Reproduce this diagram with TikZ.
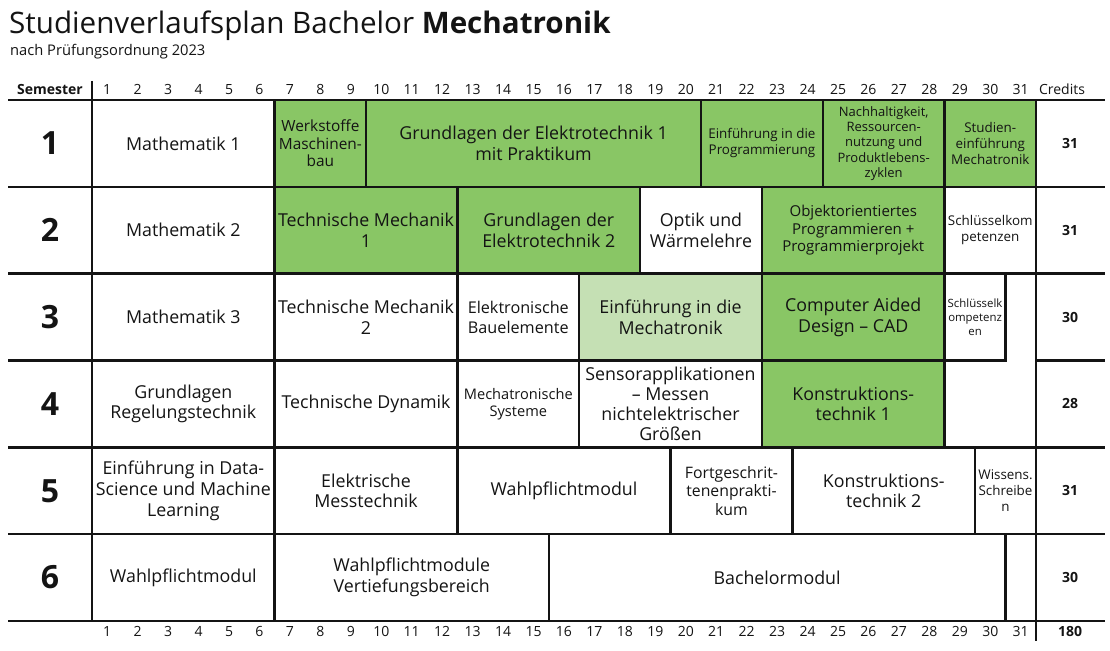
\documentclass[tikz,border=0pt]{standalone}
\usepackage{fontspec}
\setmainfont{Open Sans}
\definecolor{gr}{RGB}{137,198,101}
\definecolor{lg}{RGB}{197,224,180}
\definecolor{ln}{RGB}{20,20,20}
\definecolor{tx}{RGB}{20,20,20}
\newcommand{\fs}[2]{\fontsize{#1}{#2}\selectfont}
\newcommand{\modcell}[6]{%
  \node[modbox,#5,minimum width={(#3-#2+1)*30.45},minimum height=86.83]
    (#1) at ({92+(#2-1+#3)*30.45/2},{100+(#4-0.5)*86.83}) {#6};}
\begin{document}
\begin{tikzpicture}[x=1pt,y=-1pt,
  modbox/.style={draw=ln,line width=2.5pt,inner sep=0pt,outer sep=0pt,align=center,
    text=tx,font=\fs{17.8}{20.8},fill=white},
  green/.style={fill=gr},
  lgreen/.style={fill=lg},
  hdr/.style={text=tx,font=\fs{14}{16},inner sep=0pt,anchor=base},
  semnum/.style={text=tx,font=\fs{32}{36}\bfseries,inner sep=0pt},
  cred/.style={text=tx,font=\fs{14}{16}\bfseries,inner sep=0pt},
  grid/.style={draw=ln,line width=2.5pt}]
\useasboundingbox (0,0) rectangle (1110,650);
\fill[white] (0,0) rectangle (1110,650);
% title
\node[anchor=base west,inner sep=0pt,text=tx,font=\fs{29.6}{34}] (title) at (9,34)
  {Studienverlaufsplan Bachelor \textbf{Mechatronik}};
\node[anchor=base west,inner sep=0pt,text=tx,font=\fs{14.7}{16}] (subtitle) at (10,56)
  {nach Prüfungsordnung 2023};
% header / footer
\node[hdr,font=\fs{14}{16}\bfseries] (hsem) at (50,95) {Semester};
\node[hdr] (hcred) at (1062,95) {Credits};
\foreach \i in {1,...,31}{
  \node[hdr] (h\i) at ({92+(\i-0.5)*30.45},95) {\i};
  \node[hdr] (f\i) at ({92+(\i-0.5)*30.45},636) {\i};
}
\node[hdr,font=\fs{14}{16}\bfseries] (ftot) at (1070,636) {180};
% row 1
\modcell{m11}{1}{6}{1}{}{Mathematik 1}
\modcell{m12}{7}{9}{1}{green,font=\fs{15.4}{17.5}}{Werkstoffe\\Maschinen-\\bau}
\modcell{m13}{10}{20}{1}{green}{Grundlagen der Elektrotechnik 1\\mit Praktikum}
\modcell{m14}{21}{24}{1}{green,font=\fs{13.4}{16}}{Einführung in die\\Programmierung}
\modcell{m15}{25}{28}{1}{green,font=\fs{13}{15.3}}{Nachhaltigkeit,\\Ressourcen-\\nutzung und\\Produktlebens-\\zyklen}
\modcell{m16}{29}{31}{1}{green,font=\fs{13.4}{16}}{Studien-\\einführung\\Mechatronik}
% row 2
\modcell{m21}{1}{6}{2}{}{Mathematik 2}
\modcell{m22}{7}{12}{2}{green}{Technische Mechanik\\1}
\modcell{m23}{13}{18}{2}{green}{Grundlagen der\\Elektrotechnik 2}
\modcell{m24}{19}{22}{2}{}{Optik und\\Wärmelehre}
\modcell{m25}{23}{28}{2}{green,font=\fs{15}{17.5}}{Objektorientiertes\\Programmieren +\\Programmierprojekt}
\modcell{m26}{29}{31}{2}{font=\fs{13.4}{16}}{Schlüsselkom\\petenzen}
% row 3
\modcell{m31}{1}{6}{3}{}{Mathematik 3}
\modcell{m32}{7}{12}{3}{}{Technische Mechanik\\2}
\modcell{m33}{13}{16}{3}{font=\fs{16.2}{20}}{Elektronische\\Bauelemente}
\modcell{m34}{17}{22}{3}{lgreen}{Einführung in die\\Mechatronik}
\modcell{m35}{23}{28}{3}{green}{Computer Aided\\Design -- CAD}
\modcell{m36}{29}{30}{3}{font=\fs{11.4}{14}}{Schlüsselk\\ompetenz\\en}
% row 4
\modcell{m41}{1}{6}{4}{}{Grundlagen\\Regelungstechnik}
\modcell{m42}{7}{12}{4}{}{Technische Dynamik}
\modcell{m43}{13}{16}{4}{font=\fs{14.6}{17}}{Mechatronische\\Systeme}
\modcell{m44}{17}{22}{4}{font=\fs{17.8}{20}}{Sensorapplikationen\\-- Messen\\nichtelektrischer\\Größen}
\modcell{m45}{23}{28}{4}{green}{Konstruktions-\\technik 1}
% row 5
\modcell{m51}{1}{6}{5}{}{Einführung in Data-\\Science und Machine\\Learning}
\modcell{m52}{7}{12}{5}{}{Elektrische\\Messtechnik}
\modcell{m53}{13}{19}{5}{}{Wahlpflichtmodul}
\modcell{m54}{20}{23}{5}{font=\fs{15.8}{18.5}}{Fortgeschrit-\\tenenprakti-\\kum}
\modcell{m55}{24}{29}{5}{}{Konstruktions-\\technik 2}
\modcell{m56}{30}{31}{5}{font=\fs{13.4}{16}}{Wissens.\\Schreibe\\n}
% row 6
\modcell{m61}{1}{6}{6}{}{Wahlpflichtmodul}
\modcell{m62}{7}{15}{6}{}{Wahlpflichtmodule\\Vertiefungsbereich}
\modcell{m63}{16}{30}{6}{}{Bachelormodul}
\modcell{m64}{31}{31}{6}{}{}
% semester numbers and credits
\foreach \r/\c in {1/31,2/31,3/30,4/28,5/31,6/30}{
  \node[semnum] (s\r) at (50,{100+(\r-0.5)*86.83}) {\r};
  \node[cred] (c\r) at (1070,{100+(\r-0.5)*86.83}) {\c};
}
% grid lines
\draw[grid] (8,100) -- (1105,100);
\draw[grid] (8,620.98) -- (1105,620.98);
\foreach \r in {1,...,5}{
  \draw[grid] (8,{100+\r*86.83}) -- (92,{100+\r*86.83});
  \draw[grid] (1035.95,{100+\r*86.83}) -- (1105,{100+\r*86.83});
}
\draw[grid] (92,81) -- (92,620.98);
\draw[grid] (1035.95,100) -- (1035.95,641);
\end{tikzpicture}
\end{document}
